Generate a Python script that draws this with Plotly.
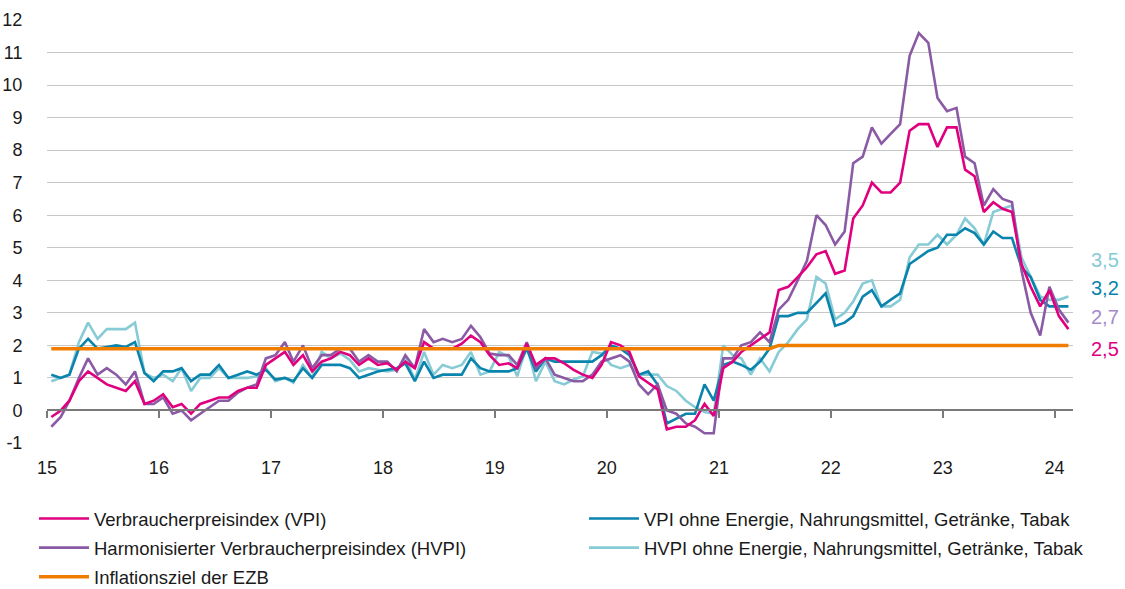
import pandas as pd
import plotly.graph_objects as go

# Monthly dates Jan 2015 - Feb 2024 (plotted mid-month)
months = pd.date_range("2015-01-01", "2024-02-01", freq="MS") + pd.Timedelta(days=14)
year_ticks = pd.date_range("2015-01-01", "2024-01-01", freq="YS")
y_tickvals = list(range(-1, 13))
y_ticktext = [str(v) for v in y_tickvals]

vpi = [
    -0.2, 0.0, 0.3, 0.9, 1.2, 1.0, 0.8, 0.7, 0.6, 0.9, 0.2, 0.3,
    0.5, 0.1, 0.2, -0.1, 0.2, 0.3, 0.4, 0.4, 0.6, 0.7, 0.7, 1.4,
    1.6, 1.8, 1.4, 1.7, 1.2, 1.5, 1.6, 1.8, 1.7, 1.4, 1.6, 1.4,
    1.45, 1.25, 1.5, 1.3, 2.1, 1.9, 1.9, 1.9, 2.05, 2.3, 2.1, 1.7,
    1.4, 1.45, 1.3, 2.05, 1.4, 1.6, 1.6, 1.45, 1.25, 1.1, 1.0, 1.4,
    2.1, 2.0, 1.8, 1.05, 0.85, 0.65, -0.58, -0.5, -0.5, -0.3, 0.2, -0.17,
    1.3, 1.5, 1.8, 2.0, 2.2, 2.4, 3.7, 3.8, 4.1, 4.4, 4.8, 4.9,
    4.2, 4.3, 5.9, 6.3, 7.0, 6.7, 6.7, 7.0, 8.6, 8.8, 8.8, 8.1,
    8.7, 8.7, 7.4, 7.2, 6.1, 6.4, 6.2, 6.1, 4.5, 3.8, 3.2, 3.7,
    2.9, 2.5,
]
hvpi = [
    -0.5, -0.2, 0.3, 1.0, 1.6, 1.1, 1.3, 1.1, 0.8, 1.2, 0.2, 0.2,
    0.4, -0.1, 0.0, -0.3, -0.1, 0.1, 0.3, 0.3, 0.55, 0.7, 0.8, 1.6,
    1.7, 2.1, 1.5, 2.0, 1.3, 1.7, 1.7, 1.9, 1.9, 1.5, 1.7, 1.5,
    1.5, 1.2, 1.7, 1.3, 2.5, 2.1, 2.2, 2.1, 2.2, 2.6, 2.25, 1.75,
    1.7, 1.7, 1.4, 2.1, 1.3, 1.6, 1.1, 1.0, 0.9, 0.9, 1.1, 1.5,
    1.6, 1.7, 1.5, 0.8, 0.5, 0.8, 0.0, -0.1, -0.4, -0.5, -0.7, -0.7,
    1.6, 1.6, 2.0, 2.1, 2.4, 2.1, 3.1, 3.4, 4.0, 4.6, 6.0, 5.7,
    5.1, 5.5, 7.6, 7.8, 8.7, 8.2, 8.5, 8.8, 10.9, 11.6, 11.3, 9.6,
    9.2, 9.3, 7.8, 7.6, 6.3, 6.8, 6.5, 6.4, 4.3, 3.0, 2.3, 3.8,
    3.1, 2.7,
]
vpi_core = [
    1.1, 1.0, 1.1, 1.9, 2.2, 1.9, 1.95, 2.0, 1.95, 2.1, 1.15, 0.9,
    1.2, 1.2, 1.3, 0.9, 1.1, 1.1, 1.4, 1.0, 1.1, 1.2, 1.1, 1.25,
    0.95, 1.0, 0.9, 1.3, 1.0, 1.4, 1.4, 1.4, 1.3, 1.0, 1.1, 1.2,
    1.25, 1.3, 1.45, 0.9, 1.5, 1.0, 1.1, 1.1, 1.1, 1.6, 1.3, 1.2,
    1.2, 1.2, 1.3, 1.9, 1.2, 1.6, 1.5, 1.5, 1.5, 1.5, 1.5, 1.7,
    2.0, 1.9, 1.7, 1.1, 1.2, 0.8, -0.4, -0.25, -0.1, -0.1, 0.8, 0.3,
    1.4, 1.5, 1.4, 1.25, 1.5, 1.9, 2.9, 2.9, 3.0, 3.0, 3.3, 3.6,
    2.6, 2.7, 2.9, 3.5, 3.7, 3.2, 3.4, 3.6, 4.5, 4.7, 4.9, 5.0,
    5.4, 5.4, 5.6, 5.45, 5.1, 5.5, 5.3, 5.3, 4.4, 4.1, 3.4, 3.2,
    3.2, 3.2,
]
hvpi_core = [
    0.9, 1.0, 1.1, 2.1, 2.7, 2.2, 2.5, 2.5, 2.5, 2.7, 1.15, 1.0,
    1.1, 0.9, 1.3, 0.6, 1.0, 1.0, 1.3, 1.0, 1.0, 1.0, 1.05, 1.3,
    0.9, 1.0, 0.85, 1.4, 1.0, 1.8, 1.6, 1.75, 1.55, 1.2, 1.3, 1.25,
    1.2, 1.25, 1.6, 0.95, 1.8, 1.1, 1.4, 1.3, 1.4, 1.8, 1.1, 1.2,
    1.8, 1.65, 1.05, 2.0, 0.9, 1.5, 0.9, 0.8, 0.95, 1.05, 1.8, 1.75,
    1.4, 1.3, 1.4, 1.1, 1.1, 1.1, 0.75, 0.6, 0.3, 0.1, -0.05, -0.1,
    2.0, 1.7, 1.6, 1.1, 1.6, 1.2, 1.8, 2.1, 2.5, 2.8, 4.1, 3.9,
    2.8, 3.0, 3.35, 3.9, 4.0, 3.2, 3.2, 3.4, 4.7, 5.1, 5.1, 5.4,
    5.1, 5.4, 5.9, 5.6, 5.1, 6.1, 6.2, 6.3, 4.7, 4.1, 3.5, 3.4,
    3.4, 3.5,
]
ezb_ziel = [1.9] * 78 + [2.0] * 32

names = [
    "Verbraucherpreisindex (VPI)",
    "VPI ohne Energie, Nahrungsmittel, Getränke, Tabak",
    "Harmonisierter Verbraucherpreisindex (HVPI)",
    "HVPI ohne Energie, Nahrungsmittel, Getränke, Tabak",
    "Inflationsziel der EZB",
]
colors = {
    "vpi": "#e0007f",
    "vpi_core": "#0a84ad",
    "hvpi": "#8b5aa5",
    "hvpi_core": "#86cbd5",
    "ezb": "#f07d00",
}
label_colors = {"vpi": "#e0007f", "vpi_core": "#0a84ad", "hvpi": "#a689c9", "hvpi_core": "#86cbd5"}

FONT = "Liberation Sans, Arial, sans-serif"
FS = 18
LFS = 18.5

fig = go.Figure()
fig.add_trace(go.Scatter(x=months, y=hvpi_core, name=names[3], mode="lines", legendgroup="d",
                         line=dict(color=colors["hvpi_core"], width=2.6), legendrank=4, legend="legend2"))
fig.add_trace(go.Scatter(x=months, y=vpi_core, name=names[1], mode="lines", legendgroup="b",
                         line=dict(color=colors["vpi_core"], width=2.6), legendrank=2, legend="legend2"))
fig.add_trace(go.Scatter(x=months, y=hvpi, name=names[2], mode="lines", legendgroup="c",
                         line=dict(color=colors["hvpi"], width=2.6), legendrank=3, legend="legend"))
fig.add_trace(go.Scatter(x=months, y=vpi, name=names[0], mode="lines", legendgroup="a",
                         line=dict(color=colors["vpi"], width=2.6), legendrank=1, legend="legend"))
fig.add_trace(go.Scatter(x=months, y=ezb_ziel, name=names[4], mode="lines", legendgroup="e",
                         line=dict(color=colors["ezb"], width=3.5), legendrank=5, legend="legend",
                         xaxis="x2", yaxis="y"))

xrange = ["2015-01-01", "2024-03-01"]
ymin, ymax = -1, 12
L, R, T, B = 47, 52, 20, 146
plot_w = 1125 - L - R

legend_common = dict(
    orientation="v", xref="paper", yref="container",
    xanchor="left", yanchor="top", itemwidth=50, tracegroupgap=2,
    font=dict(family=FONT, size=LFS, color="#1a1a1a"),
    bgcolor="rgba(0,0,0,0)",
)

fig.update_layout(
    width=1125, height=589,
    margin=dict(l=L, r=R, t=T, b=B),
    paper_bgcolor="white", plot_bgcolor="white",
    font=dict(family=FONT, size=FS, color="#1a1a1a"),
    showlegend=True,
    legend=dict(x=(34 - L) / plot_w, y=1 - 500 / 589, **legend_common),
    legend2=dict(x=(584 - L) / plot_w, y=1 - 500 / 589, **legend_common),
    xaxis=dict(
        type="date", range=xrange, showgrid=False, zeroline=False, automargin=False,
        tickvals=year_ticks, tickformat="%y",
        ticks="outside", ticklen=8, tickcolor="rgba(0,0,0,0)", showline=False,
    ),
    xaxis2=dict(
        type="date", range=xrange, overlaying="x", anchor="free", automargin=False,
        position=(0 - ymin) / (ymax - ymin),
        showgrid=False, zeroline=False, showticklabels=False,
        tickvals=year_ticks,
        ticks="outside", ticklen=7, tickwidth=1.5, tickcolor="#7a7a7a",
        showline=True, linecolor="#7a7a7a", linewidth=1.5,
    ),
    yaxis=dict(
        range=[ymin, ymax], tickvals=y_tickvals, ticktext=y_ticktext,
        showgrid=True, gridcolor="#c6c6c6", gridwidth=1.3, automargin=False,
        zeroline=False, ticks="outside", ticklen=20, tickcolor="rgba(0,0,0,0)",
        showline=False,
    ),
)

# End-value labels on the right (text taken from the last data points)
end_labels = [
    (hvpi_core[-1], label_colors["hvpi_core"], 4.63),
    (vpi_core[-1], label_colors["vpi_core"], 3.77),
    (hvpi[-1], label_colors["hvpi"], 2.88),
    (vpi[-1], label_colors["vpi"], 1.9),
]
for val, col, ypos in end_labels:
    fig.add_annotation(
        xref="paper", yref="y", x=1.016, y=ypos, xanchor="left", yanchor="middle",
        text=f"{val:.1f}".replace(".", ","), showarrow=False,
        font=dict(family=FONT, size=20, color=col),
    )

fig.write_html("out.html", config={"displayModeBar": False},
               post_script="document.body.style.margin='0';")
